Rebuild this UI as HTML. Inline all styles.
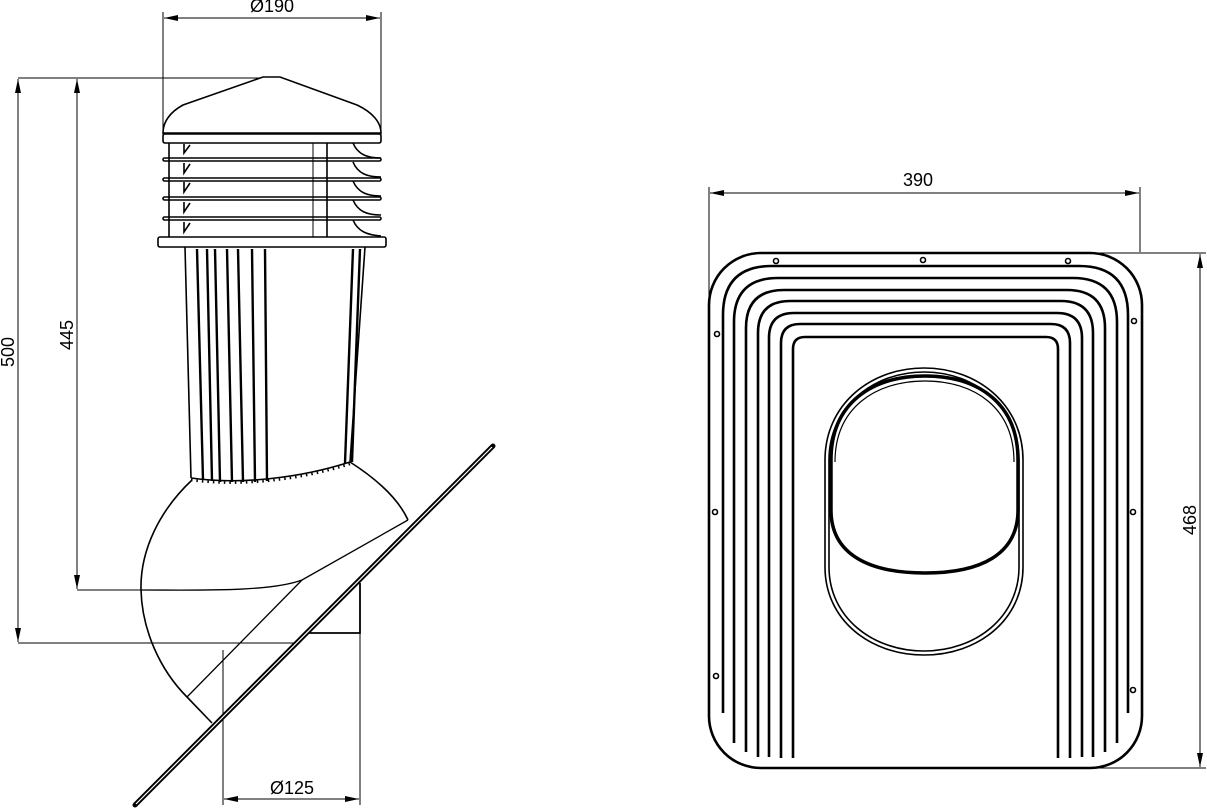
<!DOCTYPE html>
<html><head><meta charset="utf-8"><style>
html,body{margin:0;padding:0;background:#fff;}
svg{display:block;}
text{font-family:"Liberation Sans",sans-serif;font-size:18px;fill:#000;}
</style></head><body>
<svg width="1207" height="808" viewBox="0 0 1207 808" xmlns="http://www.w3.org/2000/svg">
<defs>
<marker id="a" viewBox="0 0 14 6" refX="14" refY="3" markerWidth="14" markerHeight="6" orient="auto-start-reverse" markerUnits="userSpaceOnUse"><path d="M0,0 L14,3 L0,6 Z" fill="#000"/></marker>
</defs>
<g stroke="#000" fill="none" stroke-width="1">
<line x1="163" y1="12" x2="163" y2="135"/><line x1="381" y1="12" x2="381" y2="135"/>
<line x1="164" y1="18" x2="380" y2="18" marker-start="url(#a)" marker-end="url(#a)"/>
<line x1="18" y1="78" x2="262" y2="78"/><line x1="18" y1="643" x2="300" y2="643"/><line x1="77" y1="590" x2="142" y2="590"/>
<line x1="18" y1="79" x2="18" y2="642" marker-start="url(#a)" marker-end="url(#a)"/>
<line x1="77" y1="79" x2="77" y2="589" marker-start="url(#a)" marker-end="url(#a)"/>
<line x1="223" y1="650" x2="223" y2="805"/><line x1="360" y1="633" x2="360" y2="805"/>
<line x1="224" y1="799" x2="359" y2="799" marker-start="url(#a)" marker-end="url(#a)"/>
</g>
<text x="272" y="12" text-anchor="middle">Ø190</text>
<text x="292" y="794" text-anchor="middle">Ø125</text>
<text transform="translate(14,352) rotate(-90)" text-anchor="middle">500</text>
<text transform="translate(73,335) rotate(-90)" text-anchor="middle">445</text>

<g stroke="#000" fill="none" stroke-width="1.6">
<path d="M263,77 L280,77 L357,105 C372,112 381,122 381,133 L163,133 C163,122 170,112 183,105 Z" fill="#fff"/>
<rect x="163" y="134" width="218" height="9" rx="2" fill="#fff"/>
<line x1="169" y1="143" x2="169" y2="237"/><line x1="313" y1="143" x2="313" y2="237" stroke-width="1"/><line x1="327" y1="143" x2="327" y2="237"/>
<rect x="163" y="158" width="218" height="3" rx="1.5"/>
<rect x="163" y="178" width="218" height="3" rx="1.5"/>
<rect x="163" y="197" width="218" height="3" rx="1.5"/>
<rect x="163" y="217" width="218" height="3" rx="1.5"/>
<path d="M184,144 L184,153 L190,145 M184,163 L184,173 L190,164 M184,182 L184,192 L190,183 M184,202 L184,212 L190,203 M184,222 L184,232 L190,223"/>
<path d="M353,143 C358,155 368,158 381,158 M353,162 C358,174 368,177 381,177 M353,181 C358,193 368,196 381,196 M353,200 C358,212 368,215 381,215 M353,220 C358,232 368,235 381,236"/>
<rect x="158" y="237" width="228" height="10" rx="2" fill="#fff"/>
<path d="M185,247 L191,478 M365,247 L350,462"/>
<path d="M191,478 C240,485 300,478 350,462" stroke-width="1.6"/>
<path d="M191,480 C240,487 300,480 350,464" stroke-dasharray="1.5,4" stroke-width="2.5"/>
</g>
<g stroke="#000" stroke-width="2.4">
<line x1="197" y1="249" x2="203" y2="480"/><line x1="207" y1="249" x2="212" y2="481"/><line x1="215" y1="249" x2="220" y2="482"/>
<line x1="227" y1="249" x2="232" y2="482"/><line x1="238" y1="249" x2="243" y2="482"/><line x1="252" y1="249" x2="255" y2="482"/><line x1="265" y1="249" x2="267" y2="481"/>
<line x1="353" y1="249" x2="345" y2="463"/><line x1="360" y1="249" x2="352" y2="462"/>
</g>
<g stroke="#000" fill="none" stroke-width="1.6">
<path d="M192,480 C160,510 140,550 141,590 C142,630 160,670 187,697 L212,723"/>
<path d="M350,462 C375,478 398,498 408,520"/>
<path d="M408,520 L302,580 C270,592 200,590 141,590" stroke-width="1.3"/>
<path d="M302,580 L187,697" stroke-width="1.3"/>
<path d="M360,583 L360,633 L307,633" stroke-width="1.8"/>
</g>
<line x1="135" y1="805" x2="493" y2="446" stroke="#000" stroke-width="5" stroke-linecap="round"/>
<line x1="136" y1="804" x2="492" y2="447" stroke="#fff" stroke-width="1.2"/>

<g stroke="#000" fill="none" stroke-width="1">
<line x1="709" y1="187" x2="709" y2="300"/><line x1="1140" y1="187" x2="1140" y2="252"/>
<line x1="710" y1="193" x2="1139" y2="193" marker-start="url(#a)" marker-end="url(#a)"/>
<line x1="1090" y1="253" x2="1206" y2="253"/><line x1="1090" y1="768" x2="1206" y2="768"/>
<line x1="1200" y1="254" x2="1200" y2="767" marker-start="url(#a)" marker-end="url(#a)"/>
</g>
<text x="918" y="186" text-anchor="middle">390</text>
<text transform="translate(1196,520) rotate(-90)" text-anchor="middle">468</text>
<g stroke="#000" fill="none" stroke-width="2.6">
<rect x="709" y="253" width="433" height="515" rx="52"/>
<path d="M723,713 L723,315 Q723,266 772,266 L1079,266 Q1128,266 1128,315 L1128,713"/>
<path d="M734,743 L734,322 Q734,278 778,278 L1073,278 Q1117,278 1117,322 L1117,743"/>
<path d="M746,752 L746,328 Q746,290 784,290 L1067,290 Q1105,290 1105,328 L1105,752"/>
<path d="M758,757 L758,333 Q758,301 790,301 L1061,301 Q1093,301 1093,333 L1093,757"/>
<path d="M769,757 L769,338 Q769,313 794,313 L1057,313 Q1082,313 1082,338 L1082,757"/>
<path d="M781,758 L781,343 Q781,324 800,324 L1051,324 Q1070,324 1070,343 L1070,758"/>
<path d="M793,758 L793,349 Q793,337 805,337 L1046,337 Q1058,337 1058,349 L1058,758"/>
</g>
<g stroke="#000" fill="#fff" stroke-width="1.6">
<circle cx="776" cy="261" r="2.5"/><circle cx="923" cy="260" r="2.5"/><circle cx="1068" cy="261" r="2.5"/>
<circle cx="717" cy="334" r="2.5"/><circle cx="1134" cy="321" r="2.5"/><circle cx="715" cy="512" r="2.5"/>
<circle cx="1133" cy="512" r="2.5"/><circle cx="716" cy="676" r="2.5"/><circle cx="1133" cy="690" r="2.5"/>
</g>
<g stroke="#000" fill="#fff" stroke-width="1.6">
<path d="M825,460 C825,405 870,368 924,368 C978,368 1023,405 1023,460 L1023,567 C1023,620 978,655 924,655 C870,655 825,620 825,567 Z"/>
<path d="M829,460 C829,408 872,372 924,372 C976,372 1019,408 1019,460 L1019,567 C1019,617 976,651 924,651 C872,651 829,617 829,567 Z"/>
</g>
<g stroke="#000" fill="none">
<path d="M831,460 C831,403 872,376 925,376 C978,376 1018,403 1018,460 L1018,510 C1018,555 980,573 925,573 C870,573 831,555 831,510 Z" stroke-width="3.5"/>
<path d="M835,462 C835,408 875,381 925,381 C975,381 1014,408 1014,462" stroke-width="1.2"/>
</g>
</svg>
</body></html>
